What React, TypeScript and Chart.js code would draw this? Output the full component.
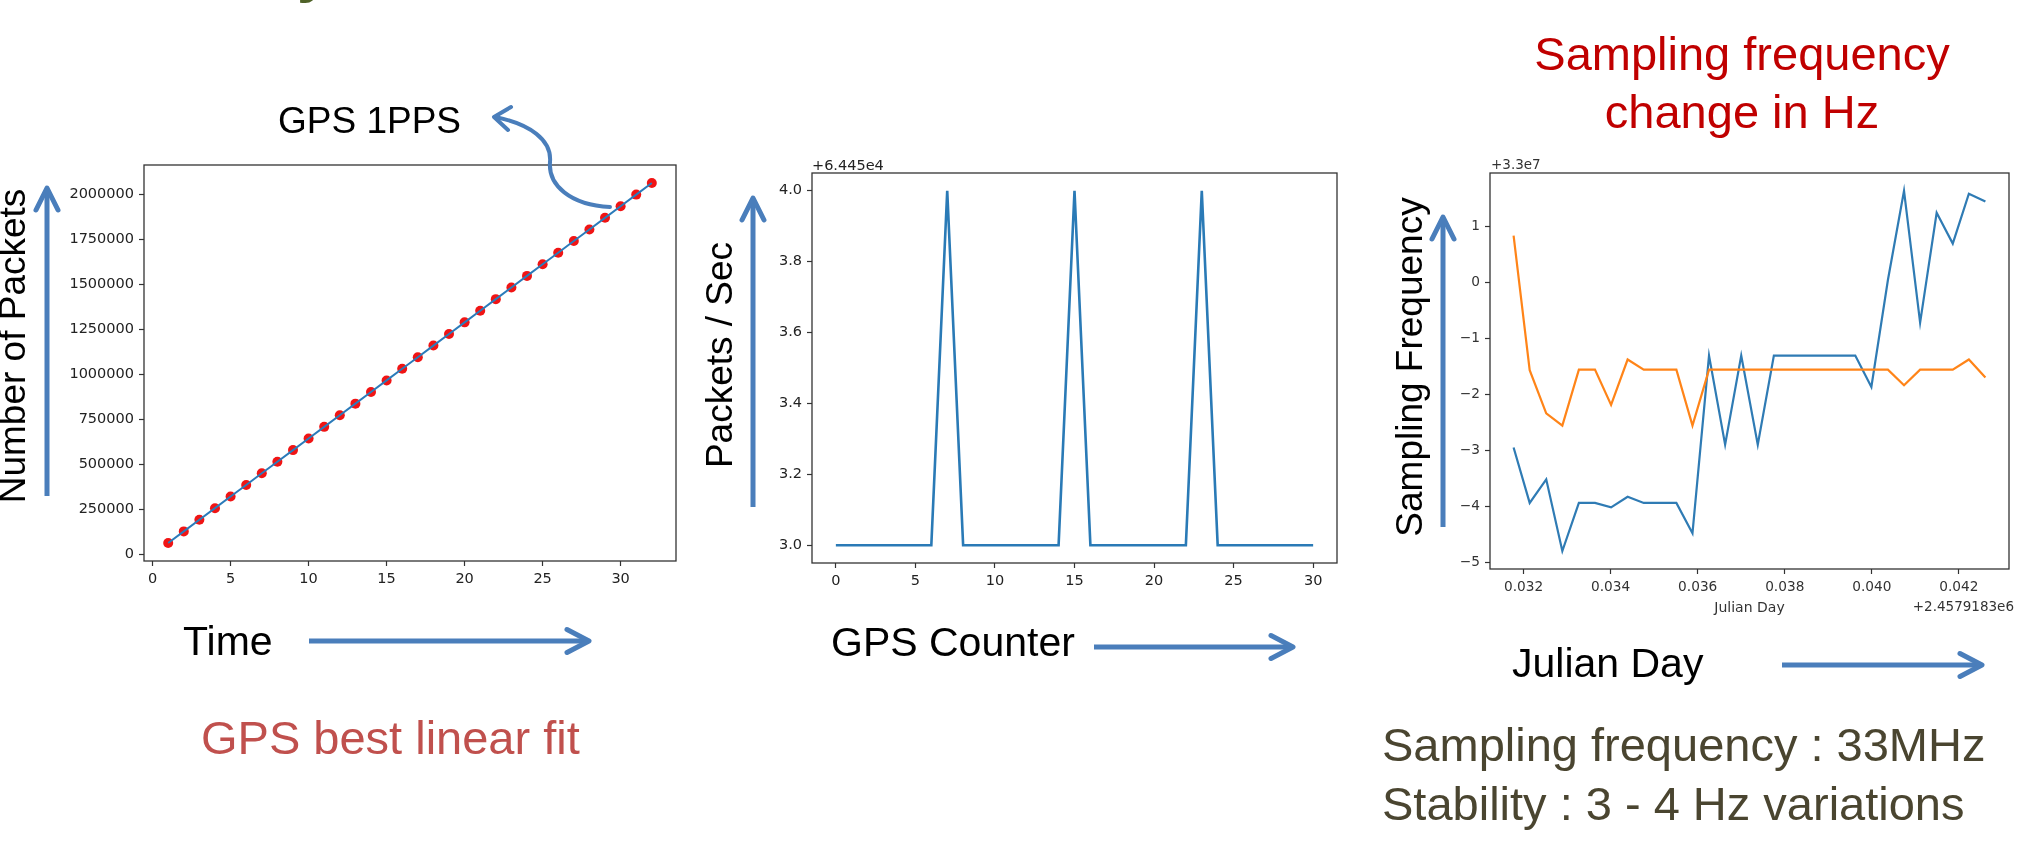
import React, { useEffect, useRef } from 'react';
import { Chart, registerables } from 'chart.js';

Chart.register(...registerables);

// ---------- Chart 1: GPS best linear fit ----------
const TIME_S = [1, 2, 3, 4, 5, 6, 7, 8, 9, 10, 11, 12, 13, 14, 15, 16, 17, 18, 19, 20, 21, 22, 23, 24, 25, 26, 27, 28, 29, 30, 31, 32];
const PACKETS_CUM = [64453, 128907, 193360, 257814, 322267, 386721, 451175, 515628, 580082, 644535, 708989, 773442, 837896, 902350, 966803, 1031257, 1095710, 1160164, 1224617, 1289071, 1353525, 1417978, 1482432, 1546885, 1611339, 1675792, 1740246, 1804700, 1869153, 1933607, 1998060, 2062514];
const X1_TICKS = [0, 5, 10, 15, 20, 25, 30];
const Y1_TICKS = [0, 250000, 500000, 750000, 1000000, 1250000, 1500000, 1750000, 2000000];

// ---------- Chart 2: packets per second vs GPS counter ----------
const GPS_COUNTER = [0, 1, 2, 3, 4, 5, 6, 7, 8, 9, 10, 11, 12, 13, 14, 15, 16, 17, 18, 19, 20, 21, 22, 23, 24, 25, 26, 27, 28, 29, 30];
const PACKETS_PER_SEC = [64453, 64453, 64453, 64453, 64453, 64453, 64453, 64454, 64453, 64453, 64453, 64453, 64453, 64453, 64453, 64454, 64453, 64453, 64453, 64453, 64453, 64453, 64453, 64454, 64453, 64453, 64453, 64453, 64453, 64453, 64453];
const X2_TICKS = [0, 5, 10, 15, 20, 25, 30];
const Y2_TICKS = [64453.0, 64453.2, 64453.4, 64453.6, 64453.8, 64454.0];
const Y2_OFFSET = 64450;

// ---------- Chart 3: sampling frequency vs Julian Day ----------
const JD_FRAC = [0.03177, 0.03214, 0.03252, 0.03289, 0.03327, 0.03364, 0.03401, 0.03439, 0.03476, 0.03513, 0.03551, 0.03588, 0.03626, 0.03663, 0.03700, 0.03738, 0.03775, 0.03812, 0.03850, 0.03887, 0.03925, 0.03962, 0.03999, 0.04037, 0.04074, 0.04111, 0.04149, 0.04186, 0.04223, 0.04261];
const FREQ_BLUE = [-2.94, -3.93, -3.51, -4.79, -3.93, -3.93, -4.01, -3.82, -3.93, -3.93, -3.93, -4.47, -1.30, -2.89, -1.30, -2.89, -1.30, -1.30, -1.30, -1.30, -1.30, -1.30, -1.86, 0.05, 1.64, -0.71, 1.25, 0.70, 1.59, 1.45];
const FREQ_ORANGE = [0.84, -1.56, -2.33, -2.55, -1.55, -1.55, -2.18, -1.37, -1.55, -1.55, -1.55, -2.55, -1.55, -1.55, -1.55, -1.55, -1.55, -1.55, -1.55, -1.55, -1.55, -1.55, -1.55, -1.55, -1.83, -1.55, -1.55, -1.55, -1.37, -1.69];
const X3_TICKS = [0.032, 0.034, 0.036, 0.038, 0.040, 0.042];
const Y3_TICKS = [-5, -4, -3, -2, -1, 0, 1];

const Y_W = 90;
const X_H = 60;
const PAD_T = 30;
const TICK_FONT = 'DejaVu Sans';
const SLIDE_FONT = 'Liberation Sans, Arial, sans-serif';
const ARROW = '#4A7EBB';

function axis(isX: boolean, ticks: number[], min: number, max: number, label: (v: number) => string, size: number, color: string) {
  return {
    type: 'linear',
    min,
    max,
    border: { display: false },
    grid: { display: true, drawOnChartArea: false, drawTicks: true, tickLength: 5, tickColor: '#333', tickWidth: 1.2 },
    afterBuildTicks: (s: any) => {
      s.ticks = ticks.map((v) => ({ value: v }));
    },
    afterFit: (s: any) => {
      if (isX) s.height = X_H;
      else s.width = Y_W;
    },
    ticks: {
      callback: (v: any) => label(Number(v)),
      font: { family: TICK_FONT, size },
      color,
      padding: isX ? 5 : 5,
      maxRotation: 0,
      autoSkip: false,
    },
  };
}

function framePlugin(extra?: (ctx: CanvasRenderingContext2D, a: any) => void) {
  return {
    id: 'frame',
    afterDraw(chart: any) {
      const ctx = chart.ctx as CanvasRenderingContext2D;
      const a = chart.chartArea;
      ctx.save();
      ctx.strokeStyle = '#333';
      ctx.lineWidth = 1.3;
      ctx.strokeRect(a.left, a.top, a.right - a.left, a.bottom - a.top);
      if (extra) extra(ctx, a);
      ctx.restore();
    },
  };
}

function ChartBox({ left, top, width, height, make }: { left: number; top: number; width: number; height: number; make: () => any }) {
  const ref = useRef<HTMLCanvasElement | null>(null);
  useEffect(() => {
    if (!ref.current) return;
    const chart = new Chart(ref.current, make());
    return () => chart.destroy();
  }, []);
  return (
    <canvas
      ref={ref}
      width={width}
      height={height}
      style={{ position: 'absolute', left, top, width, height }}
    />
  );
}

const baseOptions = (padR: number, scales: any) => ({
  responsive: false,
  animation: false,
  devicePixelRatio: 1,
  layout: { padding: { left: 0, top: PAD_T, right: padR, bottom: 0 } },
  plugins: { legend: { display: false }, tooltip: { enabled: false }, title: { display: false } },
  scales,
});

function makeChart1() {
  const pts = TIME_S.map((x, i) => ({ x, y: PACKETS_CUM[i] }));
  return {
    type: 'scatter',
    data: {
      datasets: [
        { data: pts, showLine: true, borderColor: '#2b7bba', borderWidth: 2, pointRadius: 0, order: 1 },
        { data: pts, showLine: false, pointRadius: 5, pointBackgroundColor: '#f01414', pointBorderWidth: 0, order: 2 },
      ],
    },
    options: baseOptions(20, {
      x: axis(true, X1_TICKS, -0.55, 33.55, (v) => String(v), 14.5, '#222'),
      y: axis(false, Y1_TICKS, -35450, 2162417, (v) => String(v), 14.5, '#222'),
    }),
    plugins: [framePlugin()],
  };
}

function makeChart2() {
  const pts = GPS_COUNTER.map((x, i) => ({ x, y: PACKETS_PER_SEC[i] }));
  return {
    type: 'scatter',
    data: {
      datasets: [{ data: pts, showLine: true, borderColor: '#2a7ab6', borderWidth: 2.6, pointRadius: 0 }],
    },
    options: baseOptions(20, {
      x: axis(true, X2_TICKS, -1.5, 31.5, (v) => String(v), 14.5, '#222'),
      y: axis(false, Y2_TICKS, 64452.95, 64454.05, (v) => (v - Y2_OFFSET).toFixed(1), 14.5, '#222'),
    }),
    plugins: [
      framePlugin((ctx, a) => {
        ctx.fillStyle = '#222';
        ctx.font = `14.5px ${TICK_FONT}`;
        ctx.textAlign = 'left';
        ctx.textBaseline = 'alphabetic';
        ctx.fillText('+6.445e4', a.left, a.top - 3);
      }),
    ],
  };
}

function makeChart3() {
  const blue = JD_FRAC.map((x, i) => ({ x, y: FREQ_BLUE[i] }));
  const orange = JD_FRAC.map((x, i) => ({ x, y: FREQ_ORANGE[i] }));
  const minus = (v: number) => (v < 0 ? '\u2212' + String(-v) : String(v));
  return {
    type: 'scatter',
    data: {
      datasets: [
        { data: blue, showLine: true, borderColor: '#2f7bb4', borderWidth: 2.2, pointRadius: 0, order: 2 },
        { data: orange, showLine: true, borderColor: '#ff8418', borderWidth: 2.2, pointRadius: 0, order: 1 },
      ],
    },
    options: baseOptions(14, {
      x: axis(true, X3_TICKS, 0.031228, 0.043152, (v) => v.toFixed(3), 13.7, '#333'),
      y: axis(false, Y3_TICKS, -5.11, 1.96, minus, 13.7, '#333'),
    }),
    plugins: [
      framePlugin((ctx, a) => {
        ctx.fillStyle = '#333';
        ctx.font = `13.5px ${TICK_FONT}`;
        ctx.textBaseline = 'alphabetic';
        ctx.textAlign = 'left';
        ctx.fillText('+3.3e7', a.left + 1, a.top - 4);
        ctx.textAlign = 'right';
        ctx.fillText('+2.4579183e6', a.right + 5, a.bottom + 42);
        ctx.textAlign = 'center';
        ctx.font = `14px ${TICK_FONT}`;
        ctx.fillText('Julian Day', (a.left + a.right) / 2, a.bottom + 43);
      }),
    ],
  };
}

function VArrow({ x, tip, bottom }: { x: number; tip: number; bottom: number }) {
  return (
    <g stroke={ARROW} strokeWidth={5} fill="none">
      <line x1={x} y1={bottom} x2={x} y2={tip + 2} strokeLinecap="butt" />
      <polyline points={`${x - 11},${tip + 22} ${x},${tip} ${x + 11},${tip + 22}`} strokeLinecap="round" strokeLinejoin="round" />
    </g>
  );
}

function HArrow({ y, start, tip }: { y: number; start: number; tip: number }) {
  return (
    <g stroke={ARROW} strokeWidth={5} fill="none">
      <line x1={start} y1={y} x2={tip - 2} y2={y} strokeLinecap="butt" />
      <polyline points={`${tip - 22},${y - 11.5} ${tip},${y} ${tip - 22},${y + 11.5}`} strokeLinecap="round" strokeLinejoin="round" />
    </g>
  );
}

function RotText({ x, y, size, children }: { x: number; y: number; size: number; children: string }) {
  return (
    <text x={x} y={y} transform={`rotate(-90 ${x} ${y})`} textAnchor="middle" fontSize={size} fill="#000" fontFamily={SLIDE_FONT}>
      {children}
    </text>
  );
}

export default function App() {
  return (
    <div style={{ position: 'absolute', left: 0, top: 0, width: 2023, height: 860, overflow: 'hidden', background: '#fff' }}>
      <ChartBox left={54} top={135} width={642} height={486} make={makeChart1} />
      <ChartBox left={722} top={143} width={635} height={480} make={makeChart2} />
      <ChartBox left={1400} top={143} width={623} height={486} make={makeChart3} />
      <svg width={2023} height={860} style={{ position: 'absolute', left: 0, top: 0, pointerEvents: 'none' }}>
        <text x={297} y={-9} fontSize={60} fontWeight="bold" fill="#4F6228" fontFamily={SLIDE_FONT}>y</text>

        <text x={278} y={133} fontSize={37} fill="#000" fontFamily={SLIDE_FONT}>GPS 1PPS</text>
        <g stroke={ARROW} strokeWidth={4} fill="none" strokeLinecap="round" strokeLinejoin="round">
          <path d="M 610 207 C 570 205, 548 185, 550 162 C 552 140, 530 124, 495 117" />
          <polyline points="511,107 494,117 508,130" />
        </g>

        <RotText x={25} y={346} size={37}>Number of Packets</RotText>
        <VArrow x={47} tip={188} bottom={496} />
        <text x={183} y={655} fontSize={41} fill="#000" fontFamily={SLIDE_FONT}>Time</text>
        <HArrow y={641} start={309} tip={589} />
        <text x={201} y={754} fontSize={47} fill="#C0504D" fontFamily={SLIDE_FONT}>GPS best linear fit</text>

        <RotText x={732} y={355} size={37}>Packets / Sec</RotText>
        <VArrow x={753} tip={198} bottom={507} />
        <text x={831} y={656} fontSize={41} fill="#000" fontFamily={SLIDE_FONT}>GPS Counter</text>
        <HArrow y={647} start={1094} tip={1293} />

        <text x={1742} y={70} fontSize={47} fill="#C00000" textAnchor="middle" fontFamily={SLIDE_FONT}>Sampling frequency</text>
        <text x={1742} y={128} fontSize={47} fill="#C00000" textAnchor="middle" fontFamily={SLIDE_FONT}>change in Hz</text>
        <RotText x={1422} y={367} size={37}>Sampling Frequency</RotText>
        <VArrow x={1443} tip={217} bottom={527} />
        <text x={1512} y={677} fontSize={41} fill="#000" fontFamily={SLIDE_FONT}>Julian Day</text>
        <HArrow y={665} start={1782} tip={1982} />
        <text x={1382} y={761} fontSize={47} fill="#4A4530" fontFamily={SLIDE_FONT}>Sampling frequency : 33MHz</text>
        <text x={1382} y={820} fontSize={47} fill="#4A4530" fontFamily={SLIDE_FONT}>Stability : 3 - 4 Hz variations</text>
      </svg>
    </div>
  );
}
